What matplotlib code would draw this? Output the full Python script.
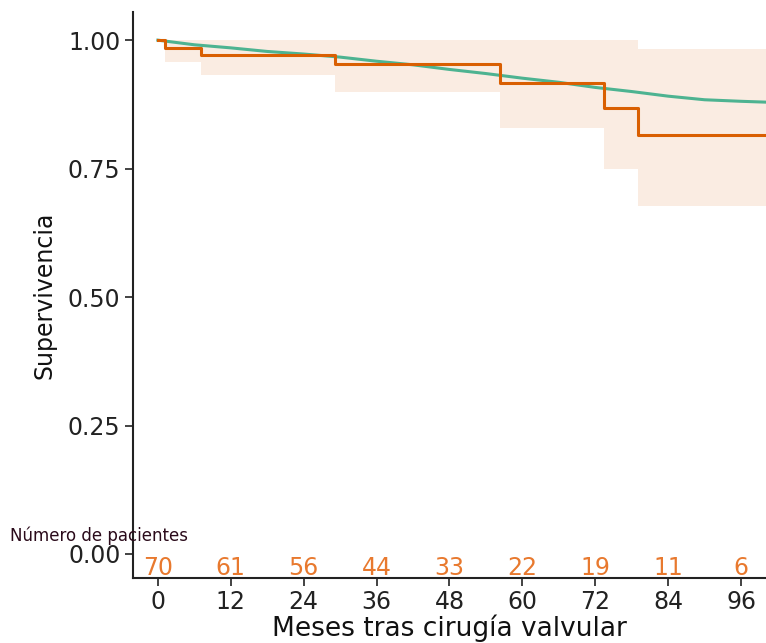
import matplotlib.pyplot as plt

# Kaplan-Meier (observed) - orange
km_t = [0, 1.15, 7.1, 29.1, 56.3, 73.4, 79.0, 101]
km_s = [1.0, 0.985, 0.972, 0.953, 0.916, 0.867, 0.816, 0.816]
ci_low = [1.0, 0.958, 0.932, 0.900, 0.829, 0.749, 0.677, 0.677]
ci_up = [1.0, 1.0, 1.0, 1.0, 1.0, 1.0, 0.983, 0.983]

# expected survival - green
exp_t = [0, 6, 12, 18, 24, 30, 36, 42, 48, 54, 60, 66, 72, 78, 84, 90, 96, 101]
exp_s = [1.0, 0.991, 0.985, 0.978, 0.973, 0.967, 0.959, 0.952, 0.943,
         0.935, 0.926, 0.918, 0.908, 0.900, 0.891, 0.884, 0.881, 0.879]

# numbers at risk
risk_t = [0, 12, 24, 36, 48, 60, 72, 84, 96]
risk_n = [70, 61, 56, 44, 33, 22, 19, 11, 6]

orange = '#D95F02'
green = '#4DB391'

fig = plt.figure(figsize=(7.66, 6.43), dpi=100)
ax = fig.add_axes([0.1736, 0.1011, 0.8264, 0.8800])

ax.fill_between(km_t, ci_low, ci_up, step='post', color='#FAECE2', lw=0)
ax.plot(exp_t, exp_s, color=green, lw=2.2)
ax.plot(km_t, km_s, drawstyle='steps-post', color=orange, lw=2.2)

for t, n in zip(risk_t, risk_n):
    ax.text(t, -0.027, str(n), color='#E8792E', fontsize=17,
            ha='center', va='center')

ax.set_xlim(-4.1, 100.1)
ax.set_ylim(-0.0467, 1.0545)
ax.set_xticks(risk_t)
ax.set_yticks([0, 0.25, 0.5, 0.75, 1.0])
ax.set_yticklabels(['0.00', '0.25', '0.50', '0.75', '1.00'])
ax.tick_params(labelsize=17, length=6, width=1.2, colors='#222222', pad=3)
for s in ['top', 'right']:
    ax.spines[s].set_visible(False)
for s in ['left', 'bottom']:
    ax.spines[s].set_linewidth(1.5)
    ax.spines[s].set_color('#222222')

ax.set_ylabel('Supervivencia', fontsize=17, labelpad=8, color='#111111')
ax.set_xlabel('Meses tras cirugía valvular', fontsize=19, labelpad=0,
              color='#111111')

fig.text(10 / 766, 1 - 536 / 643, 'Número de pacientes', fontsize=12,
         color='#2a0a1a', va='center', ha='left')

fig.savefig('out.png', dpi=100)
